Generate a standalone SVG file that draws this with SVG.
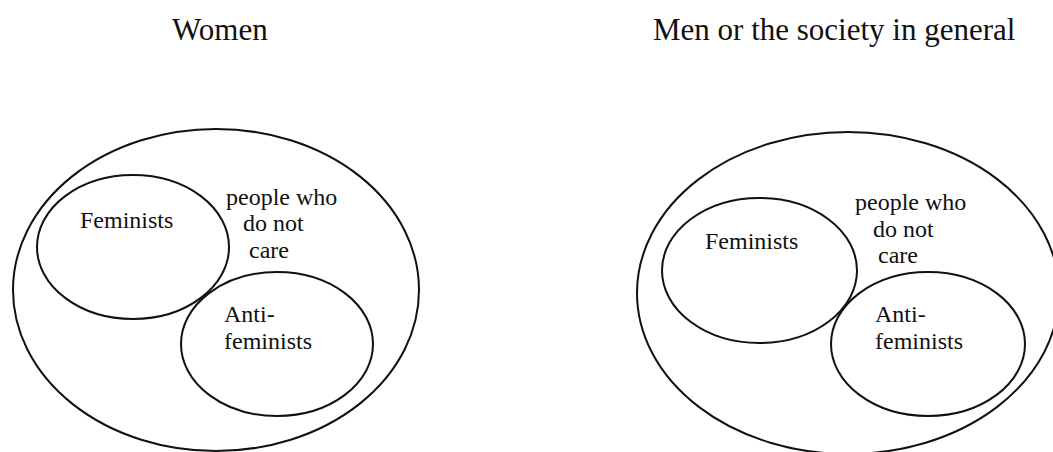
<svg xmlns="http://www.w3.org/2000/svg" width="1053" height="452" viewBox="0 0 1053 452">
  <style>
    .ring { fill: none; stroke: #111; stroke-width: 2; }
    .hd { font-family: "Liberation Serif", "Times New Roman", serif; font-size: 31px; fill: #111; }
    .tx { font-family: "Liberation Serif", "Times New Roman", serif; font-size: 24px; fill: #111; }
  </style>
  <rect width="1053" height="452" fill="#fff"/>

  <!-- Left panel: women -->
  <g id="women">
    <text class="hd" x="172" y="40">Women</text>
    <g id="women-all">
      <ellipse class="ring" cx="216" cy="290" rx="203" ry="161"/>
      <text class="tx" x="226" y="205">people who</text>
      <text class="tx" x="243" y="231">do not</text>
      <text class="tx" x="249" y="258">care</text>
    </g>
    <g id="women-feminists">
      <ellipse class="ring" cx="133" cy="247" rx="96" ry="72"/>
      <text class="tx" x="80" y="228">Feminists</text>
    </g>
    <g id="women-antifeminists">
      <ellipse class="ring" cx="277" cy="344" rx="96" ry="72"/>
      <text class="tx" x="224" y="322">Anti-</text>
      <text class="tx" x="224" y="349">feminists</text>
    </g>
  </g>

  <!-- Right panel: men or society -->
  <g id="society">
    <text class="hd" x="653" y="40">Men or the society in general</text>
    <g id="society-all">
      <ellipse class="ring" cx="848" cy="293" rx="211" ry="161"/>
      <text class="tx" x="855" y="210">people who</text>
      <text class="tx" x="873" y="237">do not</text>
      <text class="tx" x="878" y="263">care</text>
    </g>
    <g id="society-feminists">
      <ellipse class="ring" cx="759.5" cy="270.5" rx="97.5" ry="72.5"/>
      <text class="tx" x="705" y="249">Feminists</text>
    </g>
    <g id="society-antifeminists">
      <ellipse class="ring" cx="928" cy="344" rx="97" ry="72"/>
      <text class="tx" x="875" y="322">Anti-</text>
      <text class="tx" x="875" y="349">feminists</text>
    </g>
  </g>

  <g id="connectors"></g>
</svg>
